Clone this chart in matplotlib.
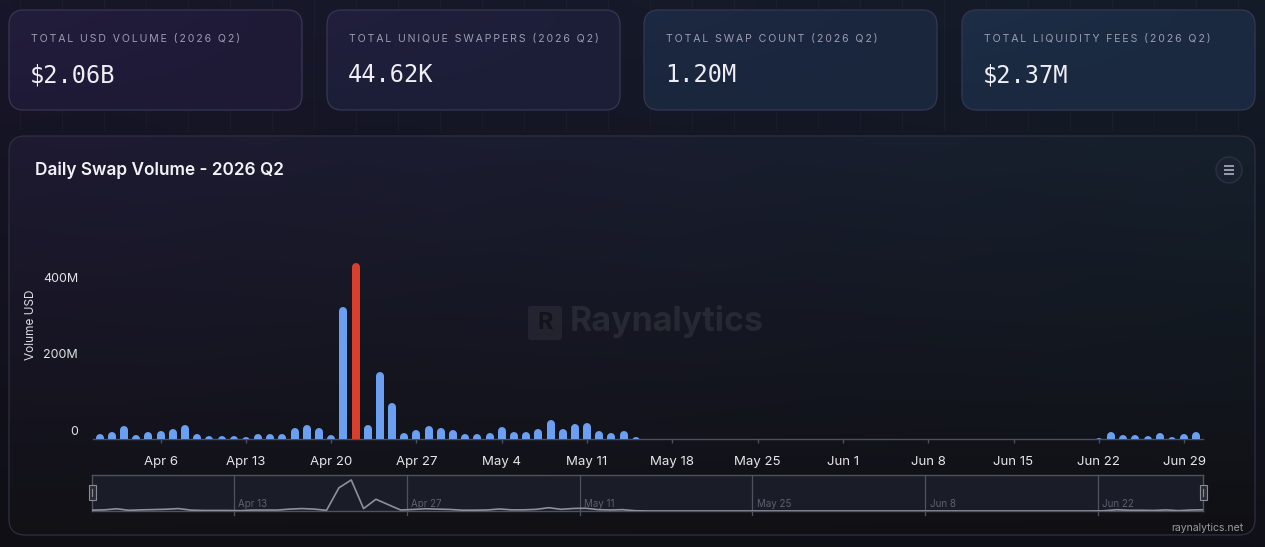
import numpy as np
import pandas as pd
import matplotlib
matplotlib.use("Agg")
import matplotlib.pyplot as plt
from matplotlib.patches import FancyBboxPatch, Circle, Rectangle
from matplotlib.transforms import offset_copy

# ---- data (millions of USD per day) ----
apr_vol = [13, 17, 33, 10, 17, 21, 26, 36, 13, 8, 8, 8, 5, 14, 14, 14, 28, 36, 28, 10,
           343, 460, 36, 174, 94, 15, 23, 33, 28, 23]
may_vol = [12, 12, 15, 30, 17, 17, 25, 49, 25, 38, 41, 20, 15, 20, 4, 0,
           0, 0, 0, 0, 0, 0, 0, 0, 0, 0, 0, 0, 0, 0, 0]
jun_vol = [0, 0, 0, 0, 0, 0, 0, 0, 0, 0, 0, 0, 0, 0, 0, 0, 0, 0, 0, 0, 0,
           3, 19, 11, 11, 8, 16, 5, 14, 18]
volume = apr_vol + may_vol + jun_vol
days = pd.date_range("2026-04-01", "2026-06-30", freq="D")

tick_labels = ["Apr 6", "Apr 13", "Apr 20", "Apr 27", "May 4", "May 11", "May 18",
               "May 25", "Jun 1", "Jun 8", "Jun 15", "Jun 22", "Jun 29"]
nav_labels = ["Apr 13", "Apr 27", "May 11", "May 25", "Jun 8", "Jun 22"]
y_ticks = [0, 200, 400]
y_tick_labels = ["0", "200M", "400M"]

card_labels = ["TOTAL USD VOLUME (2026 Q2)", "TOTAL UNIQUE SWAPPERS (2026 Q2)",
               "TOTAL SWAP COUNT (2026 Q2)", "TOTAL LIQUIDITY FEES (2026 Q2)"]
card_values = ["$2.06B", "44.62K", "1.20M", "$2.37M"]

W, H = 1265, 547
BAR = "#6b9ff2"
PEAK = "#d8402d"
FONT = ["Inter", "DejaVu Sans"]


def hexrgb(c):
    c = c.lstrip("#")
    return np.array([int(c[i:i + 2], 16) / 255 for i in (0, 2, 4)])


def gradient(ax, x0, y0, x1, y1, tl, tr, bl, br, clip=None, z=0):
    n = 60
    u = np.linspace(0, 1, n)[None, :, None]
    v = np.linspace(0, 1, n)[:, None, None]
    top = hexrgb(tl) * (1 - u) + hexrgb(tr) * u
    bot = hexrgb(bl) * (1 - u) + hexrgb(br) * u
    img = top * (1 - v) + bot * v
    im = ax.imshow(img, extent=(x0, x1, y1, y0), interpolation="bilinear",
                   zorder=z, aspect="auto")
    if clip is not None:
        im.set_clip_path(clip)
    return im


def tracked(s):
    # poor man's letter-spacing: thin space between characters
    return "\u2009".join(s)


fig = plt.figure(figsize=(W / 100, H / 100), dpi=100)
fig.patch.set_facecolor("#121219")

bg = fig.add_axes([0, 0, 1, 1])
bg.set_xlim(0, W)
bg.set_ylim(H, 0)
bg.axis("off")
bg.set_zorder(-5)

gradient(bg, 0, 0, W, H, "#18162a", "#131c28", "#0f0f15", "#101018", z=0)
for gx in np.arange(20, W, 42):
    bg.plot([gx, gx], [0, 130], color="#ffffff", alpha=0.025, lw=0.8, zorder=1)

# ---- summary cards ----
card_x = [9, 327, 644, 962]
card_cols = [("#231d3c", "#1e1a36"), ("#211e3c", "#1c1f38"),
             ("#1c2942", "#1a263c"), ("#1c2d46", "#1a293f")]
for i, (lab, val) in enumerate(zip(card_labels, card_values)):
    x0 = card_x[i]
    box = FancyBboxPatch((x0, 10), 293, 100, boxstyle="round,pad=0,rounding_size=15",
                         facecolor="none", edgecolor="#33354f", lw=1.0, zorder=3)
    bg.add_patch(box)
    c1, c2 = card_cols[i]
    gradient(bg, x0, 10, x0 + 293, 110, c1, c2, c2, c2, clip=box, z=2)
    bg.text(x0 + 22, 39, tracked(lab), fontsize=7.6, color="#9c9cae", family=FONT,
            va="center", ha="left", zorder=4)
    bg.text(x0 + 21, 75, val, fontsize=17, color="#eeeef4", family="DejaVu Sans Mono",
            va="center", ha="left", zorder=4)

# ---- chart panel ----
panel = FancyBboxPatch((9, 136), 1246, 399, boxstyle="round,pad=0,rounding_size=16",
                       facecolor="none", edgecolor="#2c2c3e", lw=1.0, zorder=3)
bg.add_patch(panel)
gradient(bg, 9, 136, 1255, 535, "#1e1a32", "#15202c", "#111116", "#101014", clip=panel, z=2)

bg.text(35, 170, "Daily Swap Volume - 2026 Q2", fontsize=12.4, color="#f2f2f6",
        family=FONT, weight="semibold", va="center", ha="left", zorder=4)

bg.add_patch(Circle((1229, 170), 13, facecolor="#1b2130", edgecolor="#2a3242",
                    lw=1, zorder=4))
for yy in (166, 170, 174):
    bg.plot([1224, 1234], [yy, yy], color="#aab0bd", lw=1.2, zorder=5,
            solid_capstyle="butt")

# watermark
bg.add_patch(FancyBboxPatch((528, 306), 34, 34, boxstyle="round,pad=0,rounding_size=3",
                            facecolor="#ffffff", alpha=0.06, edgecolor="none", zorder=4))
bg.text(545, 323, "R", fontsize=17, color="#121219", alpha=0.9, weight="bold",
        ha="center", va="center", family=FONT, zorder=4)
bg.text(570, 322, "Raynalytics", fontsize=24.5, color="#ffffff", alpha=0.08,
        weight="bold", family=FONT, ha="left", va="center", zorder=4)

bg.text(1243, 528, "raynalytics.net", fontsize=7.5, color="#9a9aa6", family=FONT,
        ha="right", va="center", zorder=4)

# ---- main bar axes ----
ax_l, ax_r, ax_b, ax_t = 93, 1203, 439, 230
ax = fig.add_axes([ax_l / W, (H - ax_b) / H, (ax_r - ax_l) / W, (ax_b - ax_t) / H])
ax.set_facecolor("none")
ymax = 545
ax.set_ylim(0, ymax)
ax.set_xlim(-0.55, len(volume) - 0.45)

bar_px = 8
per_px = ymax / (ax_b - ax_t)
cap = bar_px / 2 * per_px
x = np.arange(len(volume))
vol = np.array(volume, dtype=float)
peak_i = int(np.argmax(vol))
colors = [PEAK if i == peak_i else BAR for i in range(len(vol))]
ax.vlines(x, -ymax, vol - cap, colors=colors, lw=bar_px * 0.72,
          capstyle="round", zorder=3)

for s in ("top", "right", "left"):
    ax.spines[s].set_visible(False)
ax.spines["bottom"].set_color("#4d4f5c")
ax.spines["bottom"].set_linewidth(1)
ax.set_yticks([])

lab_days = [int(np.where(days.strftime("%b %-d") == t)[0][0]) for t in tick_labels]
ax.set_xticks(lab_days, tick_labels)
ax.tick_params(axis="x", colors="#4d4f5c", length=3, width=1, pad=9,
               labelcolor="#e6e6ea", labelsize=9.5)
for t in ax.get_xticklabels():
    t.set_family(FONT)

ytr = offset_copy(ax.get_yaxis_transform(), fig=fig, x=-15, y=7, units="dots")
for v, t in zip(y_ticks, y_tick_labels):
    ax.text(0, v, t, transform=ytr, ha="right", va="center", fontsize=9,
            color="#e2e2e8", family=FONT)
bg.text(31, 325, "Volume USD", rotation=90, fontsize=8.5, color="#dcdce2",
        family=FONT, ha="center", va="center", zorder=4)

# ---- navigator ----
nl, nr, nb, nt = 92, 1203, 511, 475
nav = fig.add_axes([nl / W, (H - nb) / H, (nr - nl) / W, (nb - nt) / H])
nav.set_facecolor("#1a1d27")
nav.set_xlim(0, len(volume) - 1)
nav.set_ylim(0, vol.max() * 1.16)
nav.plot(x, vol, color="#8d919c", lw=1.2, zorder=3)
for s in nav.spines.values():
    s.set_color("#4f5260")
    s.set_linewidth(1)
nav.set_xticks([])
nav.set_yticks([])
for t in nav_labels:
    d = int(np.where(days.strftime("%b %-d") == t)[0][0]) - 0.5
    nav.plot([d, d], [-0.11, 1], transform=nav.get_xaxis_transform(), color="#4f5260",
             lw=0.9, clip_on=False, zorder=2)
    nav.text(d + 0.35, 0.2, t, transform=nav.get_xaxis_transform(), fontsize=7,
             color="#5d6170", family=FONT, ha="left", va="center")

nav_handles = fig.add_axes([0, 0, 1, 1])
nav_handles.set_xlim(0, W)
nav_handles.set_ylim(H, 0)
nav_handles.axis("off")
for hx in (nl, nr):
    nav_handles.add_patch(Rectangle((hx - 3.5, 485), 7, 15, facecolor="#2a2c36",
                                    edgecolor="#8a8d98", lw=0.8))
    nav_handles.plot([hx, hx], [489, 496], color="#8a8d98", lw=0.8)

fig.savefig("out.png", dpi=100, facecolor=fig.get_facecolor())
